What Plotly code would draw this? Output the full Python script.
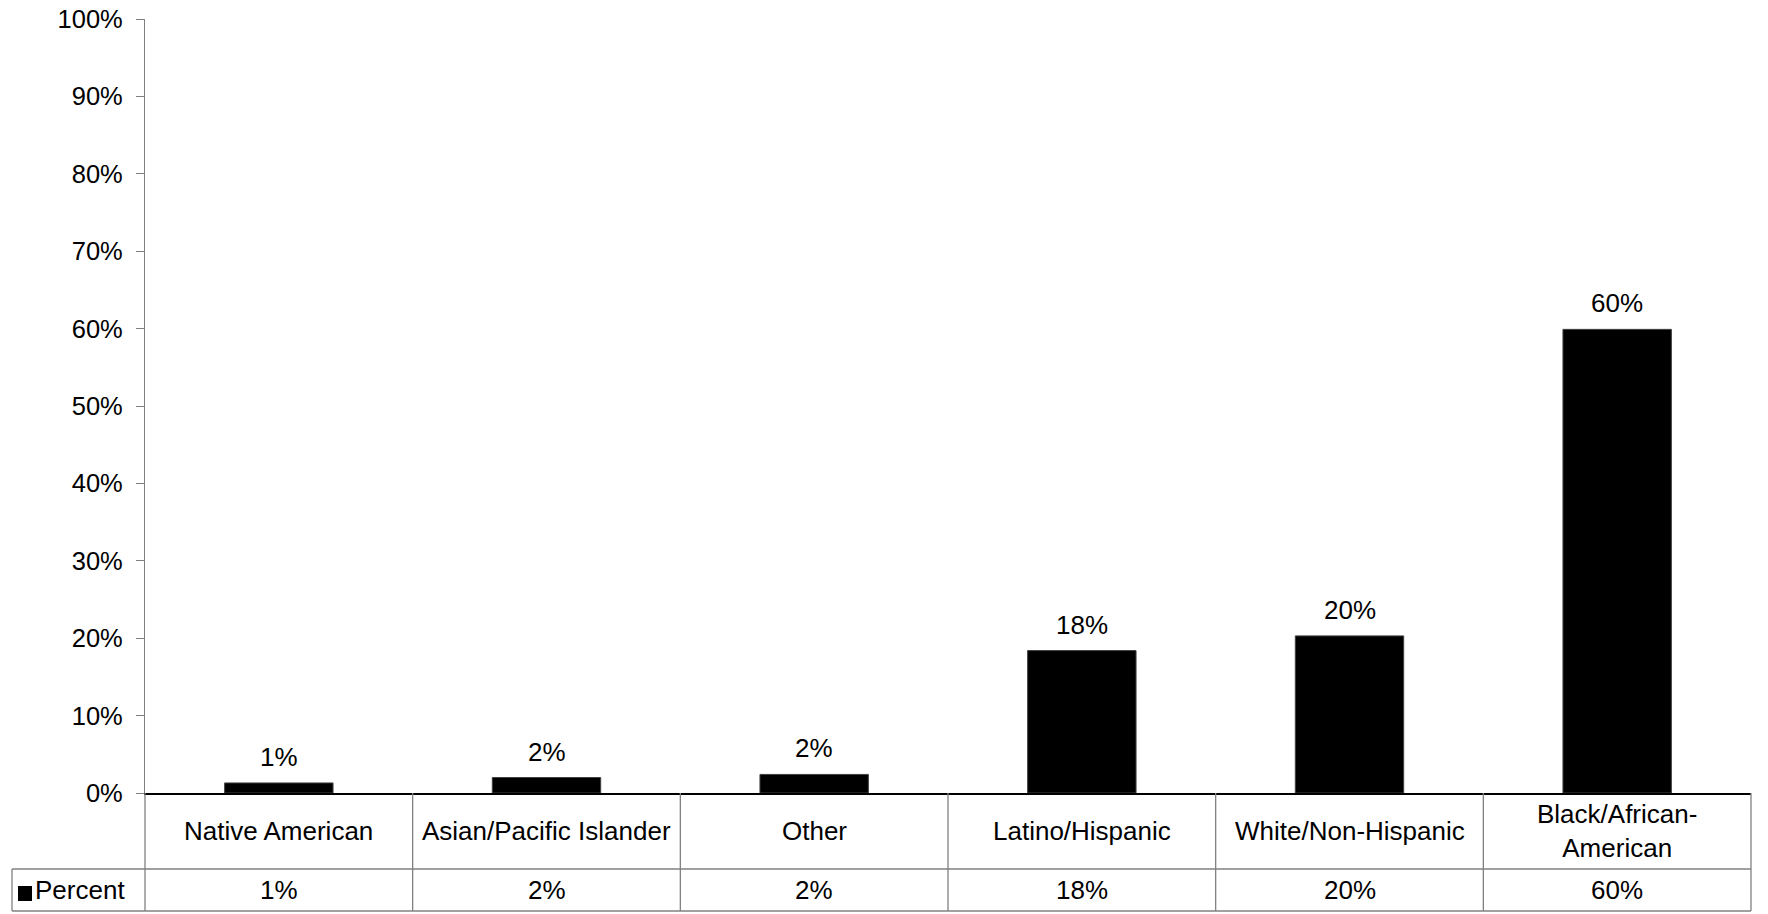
import plotly.graph_objects as go

categories = ["Native American", "Asian/Pacific Islander", "Other",
              "Latino/Hispanic", "White/Non-Hispanic", "Black/African-American"]
category_labels = ["Native American", "Asian/Pacific Islander", "Other",
                   "Latino/Hispanic", "White/Non-Hispanic", "Black/African-<br>American"]
percent = [0.013, 0.020, 0.024, 0.184, 0.203, 0.599]
series_name = "Percent"

W, H = 1768, 914
L, R, T, B = 145, 17, 19, 121
pw, ph = W - L - R, H - T - B

def px_x(px):
    return (px - L) / pw

def px_y(py):
    return (H - B - py) / ph

FONT = "Liberation Sans, Arial, sans-serif"
GRID = "#808080"
FS = 26

fig = go.Figure()
fig.add_trace(go.Bar(
    x=categories, y=percent, width=0.405,
    marker=dict(color="black", line=dict(color="#404040", width=1)),
    name=series_name, showlegend=False,
))

annotations = []
shapes = []
n = len(categories)

# data labels above bars
for c, v in zip(categories, percent):
    annotations.append(dict(x=c, y=v, xref="x", yref="y", text=f"{v:.0%}",
                            showarrow=False, yanchor="bottom", yshift=9,
                            font=dict(size=FS, color="black", family=FONT)))

# data table
row1_top, row1_bot, row2_bot = 793, 869, 911
for i, (lab, v) in enumerate(zip(category_labels, percent)):
    xc = (i + 0.5) / n
    annotations.append(dict(x=xc, y=px_y((row1_top + row1_bot) / 2), xref="paper", yref="paper",
                            text=lab, showarrow=False, xanchor="center", yanchor="middle",
                            font=dict(size=FS, color="black", family=FONT)))
    annotations.append(dict(x=xc, y=px_y((row1_bot + row2_bot) / 2), xref="paper", yref="paper",
                            text=f"{v:.0%}", showarrow=False, xanchor="center", yanchor="middle",
                            font=dict(size=FS, color="black", family=FONT)))

# vertical dividers
for k in range(1, n + 1):
    shapes.append(dict(type="line", xref="paper", yref="paper", x0=k / n, x1=k / n,
                       y0=px_y(row1_top), y1=px_y(row2_bot), line=dict(color=GRID, width=1.3)))
# left axis extension
shapes.append(dict(type="line", xref="paper", yref="paper", x0=0, x1=0,
                   y0=px_y(row1_top), y1=px_y(row2_bot), line=dict(color=GRID, width=1.3)))
# horizontal lines
legend_left = 12
shapes.append(dict(type="line", xref="paper", yref="paper", x0=px_x(legend_left), x1=1,
                   y0=px_y(row1_bot), y1=px_y(row1_bot), line=dict(color=GRID, width=1.3)))
shapes.append(dict(type="line", xref="paper", yref="paper", x0=px_x(legend_left), x1=1,
                   y0=px_y(row2_bot), y1=px_y(row2_bot), line=dict(color=GRID, width=1.3)))
shapes.append(dict(type="line", xref="paper", yref="paper", x0=px_x(legend_left), x1=px_x(legend_left),
                   y0=px_y(row1_bot), y1=px_y(row2_bot), line=dict(color=GRID, width=1.3)))
# legend key
shapes.append(dict(type="rect", xref="paper", yref="paper", x0=px_x(18), x1=px_x(32),
                   y0=px_y(901), y1=px_y(886), fillcolor="black", line=dict(width=0)))
annotations.append(dict(x=px_x(33), y=px_y((row1_bot + row2_bot) / 2), xref="paper", yref="paper",
                        text=series_name, showarrow=False, xanchor="left", yanchor="middle",
                        font=dict(size=FS, color="black", family=FONT)))

fig.update_layout(
    template="none",
    width=W, height=H,
    margin=dict(l=L, r=R, t=T, b=B, pad=0),
    paper_bgcolor="white", plot_bgcolor="white",
    bargap=0.595,
    annotations=annotations, shapes=shapes,
    font=dict(family=FONT, size=FS, color="black"),
    xaxis=dict(showticklabels=False, showgrid=False, zeroline=False, automargin=False,
               showline=True, linecolor="black", linewidth=1.5, ticks=""),
    yaxis=dict(range=[0, 1], dtick=0.1, tickformat=".0%", showgrid=False, zeroline=False,
               automargin=False,
               showline=True, linecolor=GRID, linewidth=1.3, ticks="outside", ticklen=8,
               tickcolor=GRID, tickwidth=1.3, ticklabelstandoff=8,
               tickfont=dict(size=25.5, color="black", family=FONT)),
)

fig.write_html("out.html")
